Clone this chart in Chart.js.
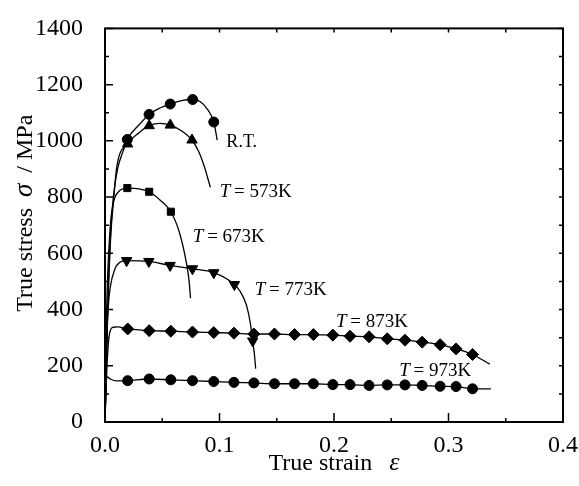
<!DOCTYPE html>
<html>
<head>
<meta charset="utf-8">
<script src="https://cdn.jsdelivr.net/npm/chart.js@4.4.1/dist/chart.umd.min.js"></script>
<style>
  html, body { margin: 0; padding: 0; background: #fff; }
</style>
</head>
<body>
<canvas id="c" width="579" height="486"></canvas>
<script>
// x: true strain, y: true stress (MPa)
const xTicks = [0, 0.1, 0.2, 0.3, 0.4]
const yTicks = [0, 200, 400, 600, 800, 1000, 1200, 1400]

// R.T.
const rtStrain = [0, 0.0025, 0.005, 0.0073, 0.011, 0.016, 0.0195, 0.03, 0.0385, 0.048, 0.057, 0.067, 0.0766, 0.083, 0.089, 0.095, 0.098]
const rtStress = [0, 420, 680, 800, 900, 966, 1005, 1058, 1094, 1117, 1131, 1143, 1148, 1140, 1115, 1067, 1003]
const rtMarkStrain = [0.0195, 0.0385, 0.057, 0.0766, 0.095]
const rtMarkStress = [1005, 1094, 1131, 1147, 1067]

// 573K
const t573Strain = [0, 0.0025, 0.005, 0.0073, 0.0102, 0.0197, 0.03, 0.0386, 0.048, 0.057, 0.067, 0.076, 0.082, 0.087, 0.092]
const t573Stress = [0, 410, 660, 780, 905, 989, 1030, 1054, 1062, 1056, 1035, 1003, 960, 905, 835]
const t573MarkStrain = [0.0197, 0.0386, 0.057, 0.076]
const t573MarkStress = [989, 1054, 1056, 1003]

// 673K
const t673Strain = [0, 0.0015, 0.0044, 0.0073, 0.012, 0.0195, 0.03, 0.0386, 0.048, 0.0575, 0.065, 0.071, 0.0735, 0.0747]
const t673Stress = [0, 405, 685, 779, 820, 832, 829, 819, 790, 748, 674, 568, 500, 440]
const t673MarkStrain = [0.0195, 0.0386, 0.0575]
const t673MarkStress = [832, 819, 748]

// 773K
const t773Strain = [0, 0.0015, 0.003, 0.0044, 0.0087, 0.013, 0.0189, 0.0383, 0.0569, 0.0764, 0.095, 0.113, 0.118, 0.1235, 0.127, 0.129, 0.1305, 0.1316]
const t773Stress = [0, 300, 416, 475, 545, 568, 574, 571, 557, 545, 531, 489, 465, 416, 350, 288, 240, 190]
const t773MarkStrain = [0.0189, 0.0383, 0.0569, 0.0764, 0.095, 0.113, 0.129]
const t773MarkStress = [574, 571, 557, 545, 531, 489, 288]

// 873K / 973K share the marker strains
const hotMarkStrain = [0.0198, 0.0386, 0.0575, 0.0764, 0.095, 0.1126, 0.130, 0.148, 0.1655, 0.182, 0.199, 0.214, 0.2306, 0.2465, 0.262, 0.277, 0.2927, 0.3066, 0.321]
const t873MarkStress = [331, 325, 323, 320, 318, 316, 313, 313, 311, 311, 309, 305, 303, 296, 291, 284, 275, 260, 240]
const t973MarkStress = [147, 153, 150, 147, 144, 141, 139, 136, 136, 136, 133, 133, 130, 132, 132, 130, 127, 126, 118]

const t873Strain = [0, 0.002, 0.004, 0.007, 0.011].concat(hotMarkStrain, [0.336])
const t873Stress = [0, 220, 315, 337, 338].concat(t873MarkStress, [206])
const t973Strain = [0, 0.0008, 0.002, 0.005, 0.01].concat(hotMarkStrain, [0.337])
const t973Stress = [0, 120, 160, 152, 146].concat(t973MarkStress, [118])

// curve labels, anchored in data units (left, baseline)
const curveLabels = [
    { pre: '', text: 'R.T.', x: 0.106, y: 979, size: 18 },
    { pre: 'T', text: ' = 573K', x: 0.1002, y: 800, size: 19 },
    { pre: 'T', text: ' = 673K', x: 0.0767, y: 639, size: 19 },
    { pre: 'T', text: ' = 773K', x: 0.1307, y: 453, size: 19 },
    { pre: 'T', text: ' = 873K', x: 0.2017, y: 339, size: 19 },
    { pre: 'T', text: ' = 973K', x: 0.257, y: 163, size: 19 }
]

const FONT = "'Liberation Serif', 'Times New Roman', serif"

const pts = (xs, ys) => xs.map((x, i) => ({ x: x, y: ys[i] }))

function curve(xs, ys) {
    return {
        data: pts(xs, ys), showLine: true, pointRadius: 0,
        borderColor: '#000', borderWidth: 1.3,
        cubicInterpolationMode: 'monotone'
    }
}
function marks(xs, ys, style, r, rot) {
    return {
        data: pts(xs, ys), showLine: false,
        pointStyle: style, pointRadius: r, pointRotation: rot || 0,
        backgroundColor: '#000', borderColor: '#000', borderWidth: 1
    }
}

// box with inward ticks on all four sides
const framePlugin = {
    id: 'frame',
    afterDraw(chart) {
        const ctx = chart.ctx
        const a = chart.chartArea
        const xs = chart.scales.x, ys = chart.scales.y
        ctx.save()
        ctx.strokeStyle = '#000'
        ctx.lineWidth = 2
        ctx.strokeRect(a.left, a.top, a.right - a.left, a.bottom - a.top)
        ctx.lineWidth = 1.5
        ctx.beginPath()
        for (let k = 0; k <= 8; k++) {
            const px = xs.getPixelForValue(k * 0.05)
            const len = k % 2 === 0 ? 9 : 4
            ctx.moveTo(px, a.bottom); ctx.lineTo(px, a.bottom - len)
            ctx.moveTo(px, a.top); ctx.lineTo(px, a.top + 4)
        }
        for (let k = 0; k <= 14; k++) {
            const py = ys.getPixelForValue(k * 100)
            const len = k % 2 === 0 ? 8 : 4
            ctx.moveTo(a.left, py); ctx.lineTo(a.left + len, py)
            ctx.moveTo(a.right, py); ctx.lineTo(a.right - 4, py)
        }
        ctx.stroke()
        ctx.restore()
    }
}

// mixed upright / italic text pieces
function drawParts(ctx, parts, size) {
    let w = 0
    parts.forEach(p => {
        if (p.gap) { w += p.gap; return }
        ctx.font = (p.it ? 'italic ' : '') + (p.size || size) + 'px ' + FONT
        p.w = ctx.measureText(p.t).width
        w += p.w
    })
    let cx = -w / 2
    parts.forEach(p => {
        if (p.gap) { cx += p.gap; return }
        ctx.font = (p.it ? 'italic ' : '') + (p.size || size) + 'px ' + FONT
        ctx.fillText(p.t, cx, 0)
        cx += p.w
    })
}

const textPlugin = {
    id: 'texts',
    afterDatasetsDraw(chart) {
        const ctx = chart.ctx
        const a = chart.chartArea
        const xs = chart.scales.x, ys = chart.scales.y
        ctx.save()
        ctx.fillStyle = '#000'
        ctx.textBaseline = 'alphabetic'
        ctx.textAlign = 'left'
        curveLabels.forEach(l => {
            let px = xs.getPixelForValue(l.x)
            const py = ys.getPixelForValue(l.y)
            if (l.pre) {
                ctx.font = 'italic ' + l.size + 'px ' + FONT
                ctx.fillText(l.pre, px, py)
                px += ctx.measureText(l.pre).width - 1
            }
            ctx.font = l.size + 'px ' + FONT
            ctx.fillText(l.text, px, py)
        })
        // x title
        ctx.save()
        ctx.translate((a.left + a.right) / 2, 470)
        drawParts(ctx, [{ t: 'True strain' }, { gap: 17 }, { t: 'ε', it: true, size: 26 }], 24)
        ctx.restore()
        // y title
        ctx.save()
        ctx.translate(32, (a.top + a.bottom) / 2 - 12)
        ctx.rotate(-Math.PI / 2)
        drawParts(ctx, [{ t: 'True stress' }, { gap: 11 }, { t: 'σ', it: true, size: 27 }, { gap: 11 }, { t: '/ MPa' }], 24)
        ctx.restore()
        ctx.restore()
    }
}

new Chart(document.getElementById('c'), {
    type: 'scatter',
    data: {
        datasets: [
            curve(rtStrain, rtStress), marks(rtMarkStrain, rtMarkStress, 'circle', 5),
            curve(t573Strain, t573Stress), marks(t573MarkStrain, t573MarkStress, 'triangle', 6),
            curve(t673Strain, t673Stress), marks(t673MarkStrain, t673MarkStress, 'rect', 5),
            curve(t773Strain, t773Stress), marks(t773MarkStrain, t773MarkStress, 'triangle', 6, 180),
            curve(t873Strain, t873Stress), marks(hotMarkStrain, t873MarkStress, 'rectRot', 6),
            curve(t973Strain, t973Stress), marks(hotMarkStrain, t973MarkStress, 'circle', 5)
        ]
    },
    options: {
        responsive: false,
        animation: false,
        layout: { padding: { top: 23, right: 16, left: 0, bottom: 0 } },
        plugins: { legend: { display: false }, tooltip: { enabled: false } },
        scales: {
            x: {
                type: 'linear', min: 0, max: 0.4,
                grid: { display: false }, border: { display: false },
                afterBuildTicks: s => { s.ticks = xTicks.map(v => ({ value: v })) },
                ticks: { callback: v => v.toFixed(1), color: '#000', font: { family: FONT, size: 24 }, padding: 1, maxRotation: 0 },
                afterFit: s => { s.height = 64 }
            },
            y: {
                min: 0, max: 1400,
                grid: { display: false }, border: { display: false },
                afterBuildTicks: s => { s.ticks = yTicks.map(v => ({ value: v })) },
                ticks: { callback: v => String(v), color: '#000', font: { family: FONT, size: 24 }, padding: 14 },
                afterFit: s => { s.width = 105 }
            }
        }
    },
    plugins: [framePlugin, textPlugin]
})
</script>
</body>
</html>
